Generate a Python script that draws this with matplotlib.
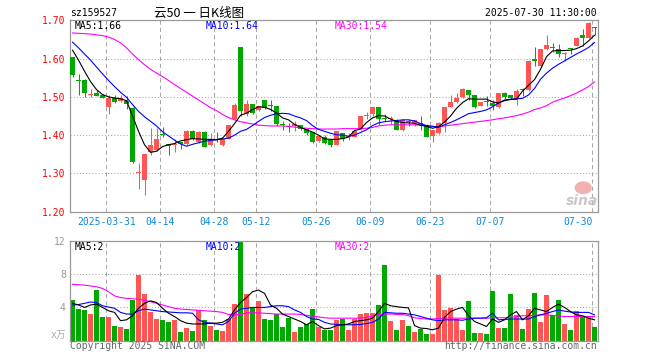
import matplotlib
matplotlib.use("Agg")
import matplotlib.pyplot as plt
from matplotlib.patches import Ellipse

plt.rcParams["font.family"] = ["DejaVu Sans Mono", "Noto Sans CJK SC"]
plt.rcParams["lines.scale_dashes"] = False

# daily candles, 2025-03-21 .. 2025-07-30
open_ = [1.604, 1.543, 1.544, 1.505, 1.509, 1.505, 1.474, 1.498, 1.488, 1.489,
         1.472, 1.300, 1.282, 1.355, 1.361, 1.403, 1.376, 1.374, 1.382, 1.377,
         1.411, 1.382, 1.409, 1.374, 1.390, 1.374, 1.391, 1.442, 1.630, 1.455,
         1.482, 1.465, 1.493, 1.478, 1.477, 1.428, 1.422, 1.423, 1.427, 1.416,
         1.408, 1.385, 1.396, 1.388, 1.375, 1.405, 1.394, 1.396, 1.416, 1.449,
         1.455, 1.474, 1.444, 1.442, 1.438, 1.414, 1.435, 1.431, 1.430, 1.426,
         1.397, 1.405, 1.433, 1.474, 1.486, 1.500, 1.519, 1.506, 1.477, 1.487,
         1.484, 1.474, 1.509, 1.505, 1.495, 1.518, 1.518, 1.600, 1.581, 1.625,
         1.629, 1.626, 1.612, 1.627, 1.633, 1.662, 1.653, 1.682]
close = [1.557, 1.542, 1.511, 1.507, 1.502, 1.498, 1.498, 1.486, 1.496, 1.481,
         1.330, 1.301, 1.351, 1.375, 1.390, 1.401, 1.372, 1.378, 1.377, 1.411,
         1.390, 1.409, 1.369, 1.390, 1.388, 1.390, 1.427, 1.480, 1.464, 1.482,
         1.459, 1.476, 1.471, 1.477, 1.430, 1.427, 1.421, 1.430, 1.416, 1.405,
         1.381, 1.399, 1.379, 1.375, 1.411, 1.389, 1.395, 1.411, 1.451, 1.451,
         1.474, 1.442, 1.443, 1.443, 1.414, 1.440, 1.434, 1.440, 1.429, 1.395,
         1.414, 1.432, 1.474, 1.486, 1.496, 1.521, 1.504, 1.473, 1.486, 1.486,
         1.477, 1.509, 1.500, 1.498, 1.515, 1.517, 1.594, 1.593, 1.625, 1.636,
         1.628, 1.611, 1.615, 1.626, 1.655, 1.654, 1.694, 1.681]
high = [1.604, 1.559, 1.546, 1.521, 1.518, 1.508, 1.505, 1.505, 1.505, 1.502,
        1.474, 1.328, 1.354, 1.418, 1.418, 1.421, 1.378, 1.390, 1.382, 1.414,
        1.414, 1.412, 1.412, 1.405, 1.409, 1.390, 1.427, 1.483, 1.630, 1.491,
        1.482, 1.476, 1.493, 1.492, 1.477, 1.438, 1.431, 1.436, 1.427, 1.416,
        1.408, 1.401, 1.401, 1.390, 1.411, 1.405, 1.405, 1.411, 1.451, 1.461,
        1.474, 1.474, 1.454, 1.449, 1.441, 1.440, 1.443, 1.440, 1.449, 1.429,
        1.414, 1.434, 1.474, 1.506, 1.509, 1.524, 1.519, 1.506, 1.486, 1.502,
        1.493, 1.511, 1.512, 1.505, 1.521, 1.524, 1.596, 1.629, 1.626, 1.661,
        1.640, 1.638, 1.616, 1.627, 1.656, 1.677, 1.695, 1.682]
low = [1.553, 1.504, 1.500, 1.500, 1.501, 1.496, 1.454, 1.484, 1.486, 1.468,
       1.328, 1.260, 1.244, 1.348, 1.358, 1.395, 1.348, 1.356, 1.365, 1.373,
       1.388, 1.379, 1.369, 1.372, 1.383, 1.372, 1.390, 1.440, 1.449, 1.451,
       1.456, 1.463, 1.467, 1.462, 1.425, 1.414, 1.407, 1.410, 1.413, 1.401,
       1.379, 1.383, 1.377, 1.370, 1.373, 1.385, 1.388, 1.394, 1.414, 1.442,
       1.451, 1.427, 1.437, 1.430, 1.414, 1.412, 1.424, 1.424, 1.414, 1.395,
       1.381, 1.403, 1.407, 1.474, 1.484, 1.498, 1.493, 1.471, 1.477, 1.477,
       1.465, 1.471, 1.495, 1.495, 1.480, 1.503, 1.516, 1.581, 1.579, 1.623,
       1.616, 1.605, 1.594, 1.611, 1.632, 1.633, 1.653, 1.661]

# volume, in 10k shares
volume = [4.9, 3.8, 3.7, 3.2, 6.1, 2.85, 2.85, 1.75, 1.6, 1.4,
          4.9, 7.9, 5.6, 3.45, 2.6, 2.5, 2.25, 2.5, 1.0, 1.5,
          1.15, 3.7, 2.5, 1.75, 1.25, 1.15, 2.6, 4.4, 12.0, 5.6,
          3.9, 4.8, 2.6, 2.5, 3.2, 1.6, 2.75, 1.0, 1.6, 2.0,
          3.8, 1.6, 1.25, 1.25, 2.5, 2.6, 1.25, 2.6, 3.2, 3.35,
          3.35, 4.3, 9.15, 2.35, 1.25, 2.5, 1.75, 1.0, 1.4, 0.8,
          0.8, 7.9, 3.7, 3.9, 2.6, 1.25, 4.8, 0.9, 0.9, 0.8,
          6.0, 1.5, 1.5, 5.6, 3.1, 1.4, 3.8, 5.7, 2.25, 5.5,
          3.1, 4.9, 2.0, 1.25, 3.6, 2.85, 2.85, 1.6]

# moving averages as drawn on the chart
ma5 = [1.622, 1.596, 1.567, 1.540, 1.519, 1.506, 1.500, 1.497, 1.495, 1.490,
       1.450, 1.410, 1.375, 1.355, 1.358, 1.370, 1.375, 1.378, 1.385, 1.388,
       1.391, 1.390, 1.389, 1.389, 1.388, 1.392, 1.410, 1.430, 1.452, 1.457,
       1.467, 1.474, 1.473, 1.467, 1.458, 1.445, 1.440, 1.428, 1.420, 1.414,
       1.408, 1.400, 1.390, 1.389, 1.389, 1.391, 1.395, 1.412, 1.416, 1.433,
       1.445, 1.451, 1.450, 1.442, 1.436, 1.433, 1.432, 1.431, 1.426, 1.423,
       1.418, 1.422, 1.434, 1.450, 1.470, 1.485, 1.495, 1.494, 1.494, 1.494,
       1.487, 1.484, 1.490, 1.493, 1.494, 1.515, 1.530, 1.545, 1.572, 1.605,
       1.620, 1.621, 1.621, 1.622, 1.626, 1.633, 1.646, 1.661]
ma10 = [1.643, 1.628, 1.612, 1.596, 1.578, 1.560, 1.543, 1.527, 1.512, 1.499,
        1.480, 1.462, 1.448, 1.436, 1.424, 1.409, 1.398, 1.387, 1.377, 1.371,
        1.376, 1.380, 1.384, 1.386, 1.388, 1.390, 1.392, 1.400, 1.410, 1.415,
        1.425, 1.436, 1.446, 1.452, 1.456, 1.457, 1.456, 1.450, 1.445, 1.438,
        1.425, 1.415, 1.410, 1.405, 1.401, 1.400, 1.397, 1.400, 1.407, 1.414,
        1.425, 1.432, 1.435, 1.437, 1.438, 1.440, 1.440, 1.437, 1.430, 1.425,
        1.423, 1.421, 1.427, 1.433, 1.440, 1.448, 1.456, 1.459, 1.462, 1.466,
        1.474, 1.484, 1.492, 1.494, 1.495, 1.496, 1.505, 1.522, 1.546, 1.562,
        1.575, 1.585, 1.594, 1.603, 1.612, 1.620, 1.629, 1.642]
ma30 = [1.667, 1.666, 1.665, 1.664, 1.662, 1.660, 1.656, 1.650, 1.641, 1.628,
        1.612, 1.597, 1.584, 1.572, 1.562, 1.553, 1.543, 1.532, 1.522, 1.512,
        1.502, 1.492, 1.482, 1.472, 1.464, 1.454, 1.446, 1.440, 1.435, 1.432,
        1.429, 1.426, 1.425, 1.424, 1.424, 1.424, 1.423, 1.421, 1.419, 1.418,
        1.417, 1.416, 1.416, 1.416, 1.416, 1.417, 1.417, 1.417, 1.417, 1.418,
        1.420, 1.424, 1.426, 1.427, 1.427, 1.427, 1.427, 1.427, 1.426, 1.425,
        1.423, 1.421, 1.424, 1.426, 1.428, 1.430, 1.432, 1.434, 1.436, 1.438,
        1.440, 1.443, 1.445, 1.448, 1.451, 1.455, 1.460, 1.467, 1.471, 1.477,
        1.486, 1.492, 1.497, 1.503, 1.510, 1.518, 1.527, 1.539]
vma5 = [4.5, 4.3, 4.0, 4.3, 4.4, 4.0, 3.6, 3.4, 2.4, 2.5,
        3.0, 3.9, 4.5, 4.8, 4.6, 3.9, 3.3, 2.9, 2.4, 2.1,
        2.0, 2.0, 2.0, 2.1, 2.1, 2.2, 2.6, 3.7, 4.6, 5.2,
        5.9, 6.1, 5.7, 4.3, 3.9, 3.2, 2.9, 2.6, 2.3, 1.9,
        2.3, 1.8, 1.4, 1.5, 1.8, 1.9, 2.0, 2.3, 2.4, 2.5,
        2.7, 3.5, 4.5, 4.2, 4.1, 4.0, 3.95, 1.8, 1.5, 1.45,
        1.3, 1.5, 2.8, 3.5, 3.8, 4.0, 3.0, 2.3, 2.0, 1.7,
        2.6, 2.2, 2.5, 3.1, 3.5, 2.5, 3.0, 3.9, 3.7, 3.5,
        4.0, 4.4, 4.0, 3.5, 3.1, 3.0, 2.7, 2.5]
vma10 = [4.3, 4.35, 4.5, 4.65, 4.6, 4.2, 4.05, 3.9, 3.4, 3.2,
         3.2, 3.6, 3.8, 3.7, 3.6, 3.5, 3.45, 3.4, 3.35, 3.35,
         3.3, 2.5, 2.2, 2.1, 2.0, 1.9, 2.3, 3.3, 3.8, 3.9,
         4.0, 4.0, 4.0, 4.1, 4.2, 4.2, 4.1, 3.7, 3.4, 2.9,
         2.6, 2.55, 2.2, 2.0, 1.95, 1.9, 1.9, 1.9, 1.95, 2.05,
         2.2, 2.6, 3.4, 3.35, 3.3, 3.3, 3.2, 3.1, 2.9, 2.7,
         2.5, 2.4, 2.5, 2.5, 2.5, 2.45, 2.6, 2.7, 2.7, 2.75,
         3.3, 2.5, 2.55, 2.6, 2.6, 2.6, 2.6, 2.9, 3.1, 3.3,
         3.5, 3.7, 3.55, 3.45, 3.4, 3.4, 3.4, 3.1]
vma30 = [6.8, 6.75, 6.7, 6.6, 6.5, 6.3, 5.9, 5.4, 5.2, 5.1,
         5.05, 5.0, 4.85, 4.7, 4.5, 4.3, 4.1, 3.9, 3.8, 3.75,
         3.7, 3.65, 3.6, 3.55, 3.5, 3.4, 3.15, 3.1, 3.15, 3.35,
         3.35, 3.35, 3.3, 3.25, 3.2, 3.2, 3.2, 3.2, 3.15, 3.05,
         2.95, 2.85, 2.75, 2.7, 2.7, 2.7, 2.7, 2.7, 2.7, 2.8,
         2.95, 3.15, 3.2, 3.2, 3.15, 3.15, 3.0, 2.75, 2.65, 2.6,
         2.6, 2.65, 2.7, 2.7, 2.7, 2.7, 2.7, 2.7, 2.7, 2.7,
         2.75, 2.75, 2.75, 2.8, 2.9, 3.0, 3.0, 3.05, 3.1, 3.1,
         3.05, 2.95, 2.9, 2.9, 2.9, 2.9, 2.9, 2.9]

date_pos = [6, 15, 24, 31, 41, 50, 60, 70, 87]
date_labels = ["2025-03-31", "04-14", "04-28", "05-12", "05-26",
               "06-09", "06-23", "07-07", "07-30"]
price_ticks = [1.20, 1.30, 1.40, 1.50, 1.60, 1.70]
vol_ticks = [4, 8, 12]
price_ma_labels = ["MA5:1.66", "MA10:1.64", "MA30:1.54"]
vol_ma_labels = ["MA5:2", "MA10:2", "MA30:2"]

UP = "#ff5555"
DOWN = "#00a800"
GRID = "#a8a8a8"
MA_COLORS = ["black", "#0000ff", "#ff00ff"]
LABEL_X = [0.008, 0.256, 0.502]
FS = 7

n = len(close)
x = list(range(n))
colors = [UP if c >= o else DOWN for o, c in zip(open_, close)]

fig = plt.figure(figsize=(6.6, 3.6), dpi=100)
ax = fig.add_axes([70 / 660, 1 - 211.7 / 360, 528 / 660, 191.4 / 360])
axv = fig.add_axes([70 / 660, 1 - 340.5 / 360, 528 / 660, 100 / 360])

for a in (ax, axv):
    a.set_xlim(-0.42, n - 0.42)
    for s in a.spines.values():
        s.set_color("#999999")
        s.set_linewidth(0.9)
    a.tick_params(length=0)
    for p in date_pos:
        a.axvline(p - 0.36, color=GRID, lw=0.75, ls=(0, (3.0, 2.2)), zorder=0)

# price panel
ax.set_ylim(1.20, 1.70)
for v in price_ticks[1:-1]:
    ax.axhline(v, color=GRID, lw=0.75, ls=(0, (0.75, 1.5)), zorder=0)
ax.vlines(x, low, high, colors=colors, lw=0.75, zorder=2)
bottoms = [min(o, c) for o, c in zip(open_, close)]
heights = [max(abs(c - o), 0.0027) for o, c in zip(open_, close)]
ax.bar(x, heights, bottom=bottoms, width=5 / 6, color=colors, zorder=3,
       linewidth=0, antialiased=False)
ax.plot(x, ma30, color="#ff00ff", lw=0.8, zorder=4)
ax.plot(x, ma10, color="#0000ff", lw=0.8, zorder=4)
ax.plot(x, ma5, color="black", lw=0.8, zorder=4)

ax.set_yticks(price_ticks)
ax.set_yticklabels(["%.2f" % v for v in price_ticks])
ax.tick_params(axis="y", colors="#ff0000", labelsize=FS, pad=3)
ax.set_xticks([])
for p, lab in zip(date_pos, date_labels):
    ha = "right" if lab == "07-30" else "center"
    ax.text(p - 0.36 + (0.1 if ha == "right" else 0), -0.052, lab,
            transform=ax.get_xaxis_transform(), ha=ha, va="center",
            fontsize=FS, color="#0a88dd")

for lab, col, lx in zip(price_ma_labels, MA_COLORS, LABEL_X):
    ax.text(lx, 0.97, lab, transform=ax.transAxes, fontsize=FS, color=col,
            va="center")

# sina watermark
ax.add_patch(Ellipse((0.972, 0.125), 0.03, 0.06, transform=ax.transAxes,
                     color="#f3b0b0", zorder=1))
ax.text(1.0, 0.02, "sina", transform=ax.transAxes, ha="right", va="bottom",
        fontsize=10, fontweight="bold", style="italic", color="#c8c8c8",
        family="DejaVu Sans", zorder=1)

# volume panel
axv.set_ylim(0, 12.1)
for v in vol_ticks[:-1]:
    axv.axhline(v, color=GRID, lw=0.75, ls=(0, (0.75, 1.5)), zorder=0)
axv.bar(x, volume, width=5 / 6, color=colors, zorder=2, linewidth=0,
        antialiased=False)
axv.plot(x, vma30, color="#ff00ff", lw=0.8, zorder=3)
axv.plot(x, vma10, color="#0000ff", lw=0.8, zorder=3)
axv.plot(x, vma5, color="black", lw=0.8, zorder=3)
axv.set_yticks(vol_ticks)
axv.set_yticklabels([str(v) for v in vol_ticks])
axv.tick_params(axis="y", colors="#999999", labelsize=FS, pad=3)
axv.set_xticks([])
axv.text(-0.008, 0.01, "x万", transform=axv.transAxes, ha="right",
         va="bottom", fontsize=FS, color="#aaaaaa",
         family=["DejaVu Sans Mono", "Noto Sans CJK SC"])

for lab, col, lx in zip(vol_ma_labels, MA_COLORS, LABEL_X):
    axv.text(lx, 0.93, lab, transform=axv.transAxes, fontsize=FS, color=col,
             va="center")

# header and footer
fig.text(70 / 660, 1 - 13 / 360, "sz159527", fontsize=FS, va="center")
fig.text(199 / 660, 1 - 13 / 360, "云50 一 日K线图", fontsize=9, va="center",
         ha="center", family=["Noto Sans CJK SC", "DejaVu Sans"])
fig.text(597 / 660, 1 - 13 / 360, "2025-07-30 11:30:00", fontsize=FS,
         va="center", ha="right")
fig.text(70 / 660, 1 - 346 / 360, "Copyright 2025 SINA.COM", fontsize=FS,
         va="center", color="#666666")
fig.text(597 / 660, 1 - 346 / 360, "http://finance.sina.com.cn", fontsize=FS,
         va="center", ha="right", color="#666666")

fig.savefig("out.png", dpi=100)
